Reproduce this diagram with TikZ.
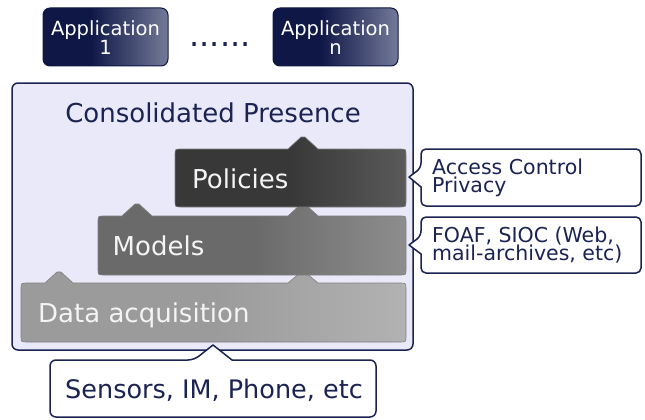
\documentclass[tikz,border=0pt]{standalone}
\usepackage{fontspec}
\setmainfont{DejaVu Sans}
\definecolor{navy}{HTML}{1B2352}
\definecolor{panel}{HTML}{E9E9F9}
\definecolor{appd}{HTML}{0F1747}
\definecolor{appl}{HTML}{737A98}
\definecolor{pold}{HTML}{383838}
\definecolor{poll}{HTML}{5A5A5A}
\definecolor{modd}{HTML}{6A6A6A}
\definecolor{modl}{HTML}{8D8D8D}
\definecolor{datd}{HTML}{9B9B9B}
\definecolor{datl}{HTML}{B2B2B2}
\definecolor{txtw}{HTML}{F4F4F4}
\pgfdeclarehorizontalshading{appsh}{100bp}{color(0bp)=(appd); color(25bp)=(appd); color(44bp)=(appd); color(75bp)=(appl); color(100bp)=(appl)}
\pgfdeclarehorizontalshading{polsh}{100bp}{color(0bp)=(pold); color(25bp)=(pold); color(50bp)=(pold); color(75bp)=(poll); color(100bp)=(poll)}
\pgfdeclarehorizontalshading{modsh}{100bp}{color(0bp)=(modd); color(25bp)=(modd); color(50bp)=(modd); color(75bp)=(modl); color(100bp)=(modl)}
\pgfdeclarehorizontalshading{datsh}{100bp}{color(0bp)=(datd); color(25bp)=(datd); color(50bp)=(datd); color(75bp)=(datl); color(100bp)=(datl)}
\tikzset{
  appbox/.style={shading=appsh, draw=appd, line width=1pt, rounded corners=7pt},
  appfont/.style={text=white, font=\fontsize{19.5}{19}\selectfont, align=center, inner sep=0pt, anchor=base},
  layerbox/.style={draw=black!50, line width=0.6pt, line join=round},
  layertxt/.style={text=txtw, font=\fontsize{26}{30}\selectfont, inner sep=0pt, anchor=base west},
  callout/.style={fill=white, draw=navy, line width=1.5pt, line join=round},
  calltxt/.style={text=navy, font=\fontsize{20.5}{18.5}\selectfont, align=left, inner sep=0pt, anchor=base west},
}
\begin{document}
\begin{tikzpicture}[x=1pt,y=-1pt]
\useasboundingbox (0,0) rectangle (645,420);
% applications
\path[appbox] (43,8) rectangle (168,66);
\path[appbox] (273,8) rectangle (398,66);
\node[appfont] (app1) at (105.5,54.5) {Application\\1};
\node[appfont] (appn) at (335.5,54.5) {Application\\n};
\node[text=navy, font=\fontsize{32}{32}\selectfont, inner sep=0pt, anchor=base] (dots) at (220,47) {......};
% container
\path[fill=panel, draw=navy, line width=1.5pt, rounded corners=6pt] (12,83) rectangle (413,350);
\node[text=navy, font=\fontsize{26}{30}\selectfont, inner sep=0pt, anchor=base] (title) at (213,122) {Consolidated Presence};
% data acquisition
\path[layerbox, shading=datsh]
  (21,289) .. controls (21,283) .. (27,283) -- (45,283) -- (57,272) -- (61,272) -- (73,283)
  -- (288,283) -- (301,272) -- (305,272) -- (318,283)
  -- (400,283) .. controls (406,283) .. (406,289) -- (406,336) .. controls (406,342) .. (400,342)
  -- (27,342) .. controls (21,342) .. (21,336) -- cycle;
% models
\path[layerbox, shading=modsh]
  (98,222) .. controls (98,216) .. (104,216) -- (122,216) -- (135,204) -- (139,204) -- (152,216)
  -- (288,216) -- (301,204) -- (305,204) -- (318,216)
  -- (400,216) .. controls (406,216) .. (406,222) -- (406,269) .. controls (406,275) .. (400,275)
  -- (104,275) .. controls (98,275) .. (98,269) -- cycle;
% policies
\path[layerbox, shading=polsh]
  (175,155) .. controls (175,149) .. (181,149) -- (288,149) -- (301,137) -- (305,137) -- (318,149)
  -- (400,149) .. controls (406,149) .. (406,155) -- (406,201) .. controls (406,207) .. (400,207)
  -- (181,207) .. controls (175,207) .. (175,201) -- cycle;
\node[layertxt] (pol) at (192,188) {Policies};
\node[layertxt] (mod) at (112.5,255) {Models};
\node[layertxt] (dat) at (38,322.5) {Data acquisition};
% callouts
\path[callout, rounded corners=5pt]
  (421,158) -- (421,168) [sharp corners] -- (409,177) -- (421,187)
  [rounded corners=5pt] -- (421,206) -- (641,206) -- (641,149) -- (421,149) -- cycle;
\node[calltxt] (acc) at (432,192.5) {Access Control\\Privacy};
\path[callout, rounded corners=5pt]
  (421,226) -- (421,236) [sharp corners] -- (409,245) -- (421,254)
  [rounded corners=5pt] -- (421,273) -- (641,273) -- (641,217) -- (421,217) -- cycle;
\node[calltxt] (foaf) at (432,260.5) {FOAF, SIOC (Web,\\mail-archives, etc)};
\path[callout, rounded corners=6pt]
  (120,360) -- (194,360) [sharp corners] -- (213,345) -- (232,360)
  [rounded corners=6pt] -- (376,360) -- (376,417) -- (50,417) -- (50,360) -- cycle;
\node[text=navy, font=\fontsize{25.5}{30}\selectfont, inner sep=0pt, anchor=base] (sens) at (214,398) {Sensors, IM, Phone, etc};
\end{tikzpicture}
\end{document}
